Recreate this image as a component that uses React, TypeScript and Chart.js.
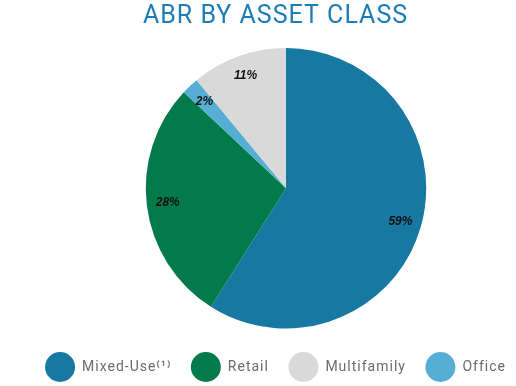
import React, { useEffect, useRef } from 'react';
import { Chart, registerables } from 'chart.js';

Chart.register(...registerables);

const TITLE = 'ABR BY ASSET CLASS';
const CATEGORIES = ['Mixed-Use⁽¹⁾', 'Retail', 'Office', 'Multifamily'];
const VALUES = [59, 28, 2, 11];
const PERCENT_LABELS = ['59%', '28%', '2%', '11%'];
const COLORS = ['#1778a2', '#037a4a', '#57aed5', '#d9d9d9'];
const LEGEND_ORDER = ['Mixed-Use⁽¹⁾', 'Retail', 'Multifamily', 'Office'];

const spacingPlugin = {
  id: 'letterSpacingPlugin',
  beforeLayout(chart: any) {
    chart.ctx.letterSpacing = '1px';
  },
  afterLayout(chart: any) {
    chart.ctx.letterSpacing = '0px';
  },
  beforeDraw(chart: any) {
    chart.ctx.letterSpacing = '1px';
  },
  afterDraw(chart: any) {
    chart.ctx.letterSpacing = '0px';
  },
};

const labelPlugin = {
  id: 'sliceLabels',
  afterDatasetsDraw(chart: any) {
    const ctx = chart.ctx;
    const meta = chart.getDatasetMeta(0);
    ctx.save();
    ctx.letterSpacing = '0px';
    ctx.font = 'italic bold 12px "Liberation Sans", Arial, sans-serif';
    ctx.fillStyle = '#111111';
    ctx.textAlign = 'center';
    ctx.textBaseline = 'middle';
    meta.data.forEach((arc: any, i: number) => {
      const { x, y, startAngle, endAngle, outerRadius } = arc.getProps(
        ['x', 'y', 'startAngle', 'endAngle', 'outerRadius'],
        true
      );
      const mid = (startAngle + endAngle) / 2;
      const r = outerRadius * 0.85;
      ctx.fillText(PERCENT_LABELS[i], x + Math.cos(mid) * r, y + Math.sin(mid) * r);
    });
    ctx.restore();
  },
};

export default function App() {
  const ref = useRef<HTMLCanvasElement>(null);
  useEffect(() => {
    const baseGenerate = (Chart as any).overrides.doughnut.plugins.legend.labels.generateLabels;
    const chart = new Chart(ref.current as HTMLCanvasElement, {
      type: 'pie',
      data: {
        labels: CATEGORIES,
        datasets: [{ data: VALUES, backgroundColor: COLORS, borderWidth: 0, radius: '97.2%' }],
      },
      options: {
        animation: false,
        responsive: true,
        maintainAspectRatio: false,
        layout: { padding: 0 },
        plugins: {
          title: {
            display: true,
            text: TITLE,
            color: '#1a7db5',
            font: { family: 'Roboto', size: 25, weight: 'normal', lineHeight: 1.2 },
            padding: { top: 2, bottom: 12 },
          },
          subtitle: {
            display: true,
            position: 'left',
            text: '',
            font: { size: 10, lineHeight: 1.2 },
            padding: { top: 4.5, bottom: 4.5 },
          },
          legend: {
            position: 'bottom',
            labels: {
              boxWidth: 30,
              boxHeight: 30,
              padding: 19.5,
              color: '#6b6b6b',
              font: { family: 'Roboto', size: 14 },
              generateLabels: (c: any) =>
                baseGenerate(c).map((l: any) => ({ ...l, borderRadius: 15 })),
              sort: (a: any, b: any) =>
                LEGEND_ORDER.indexOf(a.text) - LEGEND_ORDER.indexOf(b.text),
            },
          },
          tooltip: { enabled: false },
        },
      } as any,
      plugins: [spacingPlugin, labelPlugin],
    });
    return () => chart.destroy();
  }, []);
  return (
    <div style={{ position: 'fixed', left: 0, top: 0, width: 551, height: 392 }}>
      <canvas ref={ref} />
    </div>
  );
}
